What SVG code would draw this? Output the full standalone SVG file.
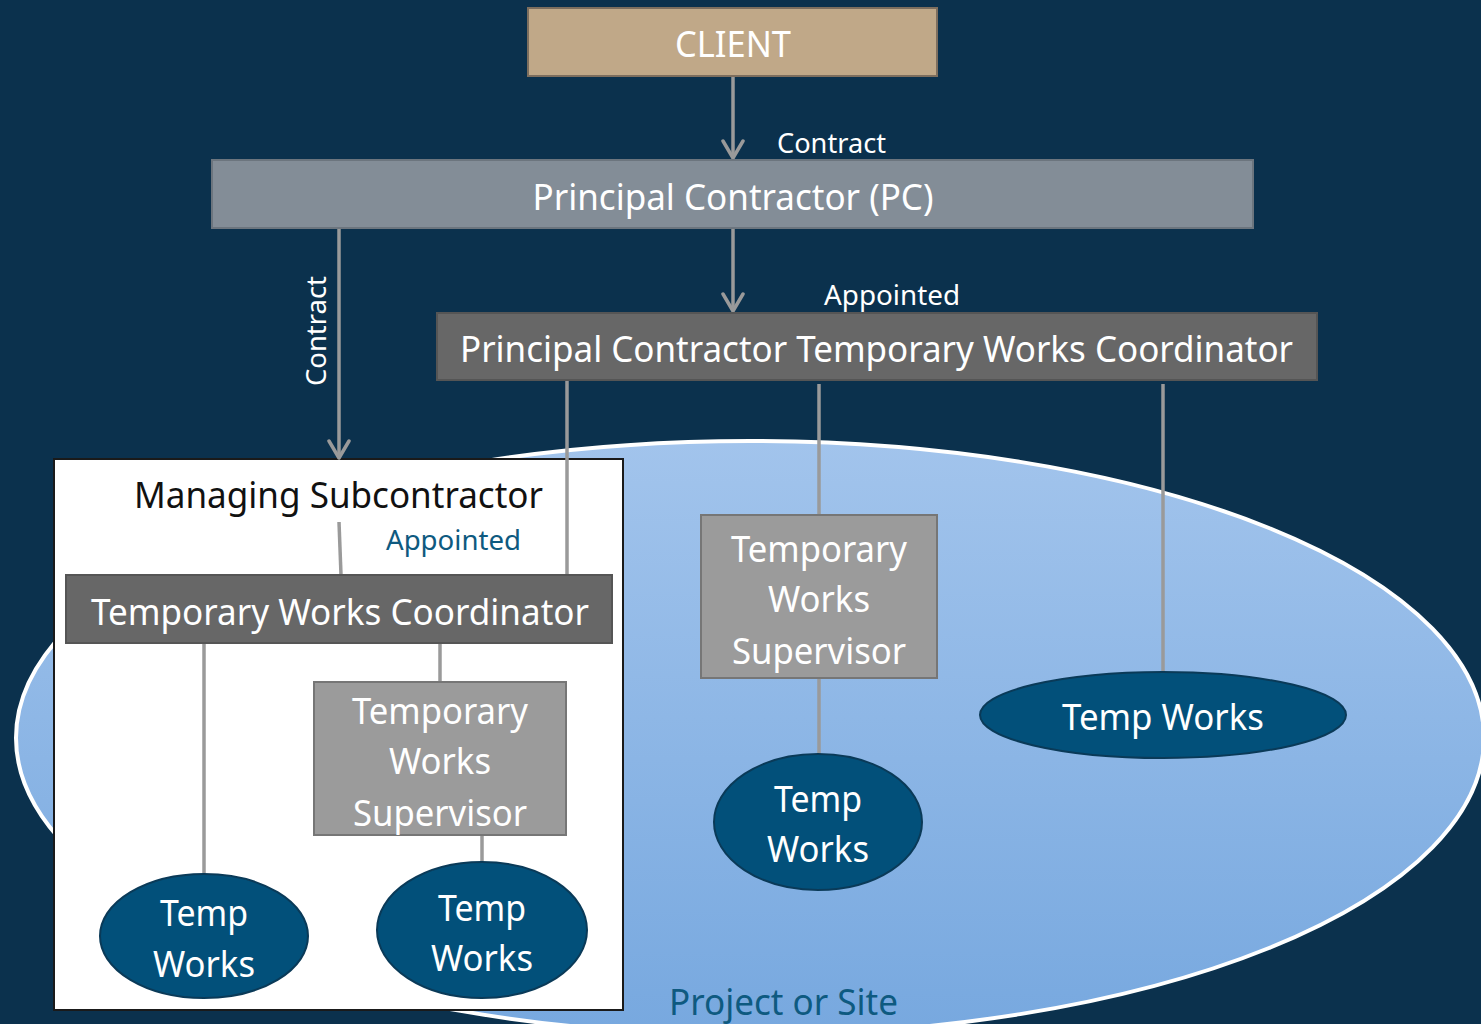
<svg xmlns="http://www.w3.org/2000/svg" width="1481" height="1024" viewBox="0 0 1481 1024">
  <defs>
    <linearGradient id="siteFill" x1="0" y1="0" x2="0" y2="1">
      <stop offset="0" stop-color="#a2c4ec"/>
      <stop offset="1" stop-color="#77a8df"/>
    </linearGradient>
    <marker id="vee" viewBox="0 0 24 24" refX="21" refY="12" markerWidth="24" markerHeight="24" markerUnits="userSpaceOnUse" orient="auto">
      <path d="M4,2 L21,12 L4,22" fill="none" stroke="#9a9a9a" stroke-width="3.5" stroke-linecap="round" stroke-linejoin="round"/>
    </marker>
    <style>
      text { font-family: "Noto Sans", "Open Sans", "Liberation Sans", sans-serif; }
      .lbl { fill: #ffffff; font-size: 36px; text-anchor: middle; }
      .small { fill: #ffffff; font-size: 28px; }
      .link { stroke: #9a9a9a; stroke-width: 3.5; fill: none; }
      .tw { fill: #02507a; stroke: #0a3a58; stroke-width: 2; }
      .dark { fill: #676767; stroke: #555555; stroke-width: 2; }
      .tws { fill: #9b9b9b; stroke: #767676; stroke-width: 2; }
    </style>
  </defs>

  <!-- background -->
  <rect x="0" y="0" width="1481" height="1024" fill="#0b314d"/>

  <!-- project / site area -->
  <g id="site">
    <ellipse cx="750" cy="738" rx="734" ry="297" fill="url(#siteFill)" stroke="#ffffff" stroke-width="4"/>
    <text x="669" y="1015" font-size="36" fill="#0e5a80" textLength="229" lengthAdjust="spacingAndGlyphs">Project or Site</text>
  </g>

  <!-- managing subcontractor container -->
  <g id="managing-subcontractor">
    <rect x="54" y="459" width="569" height="551" fill="#ffffff" stroke="#1a1a1a" stroke-width="2"/>
    <text x="338.5" y="508" font-size="36" fill="#111111" text-anchor="middle" textLength="409" lengthAdjust="spacingAndGlyphs">Managing Subcontractor</text>
  </g>

  <!-- connectors -->
  <g id="connectors">
    <line class="link" x1="733" y1="77" x2="733" y2="158" marker-end="url(#vee)"/>
    <line class="link" x1="733" y1="229" x2="733" y2="311" marker-end="url(#vee)"/>
    <line class="link" x1="339" y1="229" x2="339" y2="458" marker-end="url(#vee)"/>
    <line class="link" x1="339" y1="522" x2="341" y2="575"/>
    <line class="link" x1="567" y1="379" x2="567" y2="575"/>
    <line class="link" x1="819" y1="384" x2="819" y2="515"/>
    <line class="link" x1="1163" y1="384" x2="1163" y2="672"/>
    <line class="link" x1="819" y1="679" x2="819" y2="754"/>
    <line class="link" x1="204" y1="644" x2="204" y2="874"/>
    <line class="link" x1="440" y1="644" x2="440" y2="682"/>
    <line class="link" x1="482" y1="836" x2="482" y2="862"/>
    <text class="small" x="777" y="153" textLength="109" lengthAdjust="spacingAndGlyphs">Contract</text>
    <text class="small" x="824" y="305" textLength="136" lengthAdjust="spacingAndGlyphs">Appointed</text>
    <text class="small" transform="translate(326,331) rotate(-90)" text-anchor="middle" textLength="110" lengthAdjust="spacingAndGlyphs">Contract</text>
    <text x="386" y="550" font-size="28" fill="#0e5a80" textLength="135" lengthAdjust="spacingAndGlyphs">Appointed</text>
  </g>

  <g id="client">
    <rect x="528" y="8" width="409" height="68" fill="#c0a888" stroke="#7d6e5e" stroke-width="2"/>
    <text class="lbl" x="733" y="57" textLength="116" lengthAdjust="spacingAndGlyphs">CLIENT</text>
  </g>

  <g id="principal-contractor">
    <rect x="212" y="160" width="1041" height="68" fill="#838d97" stroke="#6c757e" stroke-width="2"/>
    <text class="lbl" x="733" y="210" textLength="401" lengthAdjust="spacingAndGlyphs">Principal Contractor (PC)</text>
  </g>

  <g id="pc-twc">
    <rect class="dark" x="437" y="313" width="880" height="67"/>
    <text class="lbl" x="876.5" y="362" textLength="833" lengthAdjust="spacingAndGlyphs">Principal Contractor Temporary Works Coordinator</text>
  </g>

  <g id="twc">
    <rect class="dark" x="66" y="575" width="546" height="68"/>
    <text class="lbl" x="340" y="625" textLength="498" lengthAdjust="spacingAndGlyphs">Temporary Works Coordinator</text>
  </g>

  <g id="tws-sub">
    <rect class="tws" x="314" y="682" width="252" height="153"/>
    <text class="lbl" x="440" y="724" textLength="176" lengthAdjust="spacingAndGlyphs">Temporary</text>
    <text class="lbl" x="440" y="774" textLength="102" lengthAdjust="spacingAndGlyphs">Works</text>
    <text class="lbl" x="440" y="826" textLength="174" lengthAdjust="spacingAndGlyphs">Supervisor</text>
  </g>

  <g id="tws-pc">
    <rect class="tws" x="701" y="515" width="236" height="163"/>
    <text class="lbl" x="819" y="562" textLength="176" lengthAdjust="spacingAndGlyphs">Temporary</text>
    <text class="lbl" x="819" y="612" textLength="102" lengthAdjust="spacingAndGlyphs">Works</text>
    <text class="lbl" x="819" y="664" textLength="174" lengthAdjust="spacingAndGlyphs">Supervisor</text>
  </g>

  <g id="tw-sub-1">
    <ellipse class="tw" cx="204" cy="936" rx="104" ry="62"/>
    <text class="lbl" x="204" y="926" textLength="88" lengthAdjust="spacingAndGlyphs">Temp</text>
    <text class="lbl" x="204" y="977" textLength="102" lengthAdjust="spacingAndGlyphs">Works</text>
  </g>

  <g id="tw-sub-2">
    <ellipse class="tw" cx="482" cy="930" rx="105" ry="68"/>
    <text class="lbl" x="482" y="921" textLength="88" lengthAdjust="spacingAndGlyphs">Temp</text>
    <text class="lbl" x="482" y="971" textLength="102" lengthAdjust="spacingAndGlyphs">Works</text>
  </g>

  <g id="tw-pc-1">
    <ellipse class="tw" cx="818" cy="822" rx="104" ry="68"/>
    <text class="lbl" x="818" y="812" textLength="88" lengthAdjust="spacingAndGlyphs">Temp</text>
    <text class="lbl" x="818" y="862" textLength="102" lengthAdjust="spacingAndGlyphs">Works</text>
  </g>

  <g id="tw-pc-2">
    <ellipse class="tw" cx="1163" cy="715" rx="183" ry="43"/>
    <text class="lbl" x="1163" y="730" textLength="202" lengthAdjust="spacingAndGlyphs">Temp Works</text>
  </g>
</svg>
